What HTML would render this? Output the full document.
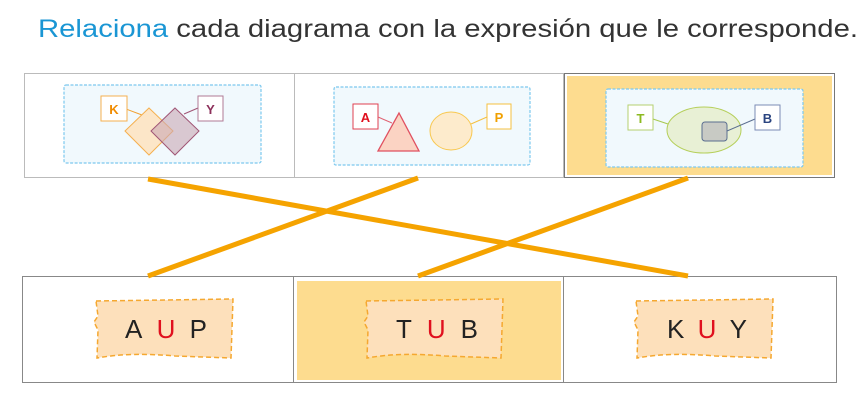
<!DOCTYPE html>
<html><head><meta charset="utf-8"><style>
html,body{margin:0;padding:0;background:#fff;width:864px;height:407px;overflow:hidden}
svg{display:block}
text{font-family:"Liberation Sans",sans-serif}
</style></head><body>
<svg width="864" height="407" viewBox="0 0 864 407" xmlns="http://www.w3.org/2000/svg">
<text x="38" y="37" font-size="25" fill="#333" textLength="820" lengthAdjust="spacingAndGlyphs"><tspan fill="#1a96d4">Relaciona</tspan> cada diagrama con la expresión que le corresponde.</text>

<!-- top row -->
<rect x="24.5" y="73.5" width="270" height="104" fill="#fff" stroke="#bbb"/>
<rect x="294.5" y="73.5" width="269" height="104" fill="#fff" stroke="#bbb"/>
<rect x="564.5" y="73.5" width="270" height="104" fill="#fff" stroke="#777"/>
<rect x="567" y="76" width="265" height="99" fill="#fddc8f"/>

<g stroke="#7cc8ee" stroke-width="1.2" stroke-dasharray="3 1.5" fill="#f1f9fd">
<rect x="64" y="85" width="197" height="78" rx="2"/>
<rect x="334" y="87" width="196" height="78" rx="2"/>
<rect x="606" y="89" width="197" height="78" rx="2"/>
</g>

<!-- diagram 1 -->
<line x1="126" y1="109" x2="142" y2="115" stroke="#f1a030"/>
<line x1="184" y1="114" x2="198" y2="108" stroke="#a05575"/>
<rect x="101" y="96" width="26" height="25" fill="#fff" stroke="#f5b050"/>
<text x="114" y="114" font-size="13" font-weight="bold" fill="#f08c00" text-anchor="middle">K</text>
<rect x="198" y="96" width="25" height="25" fill="#fff" stroke="#b07a95"/>
<text x="210.5" y="114" font-size="13" font-weight="bold" fill="#8c2f5a" text-anchor="middle">Y</text>
<polygon points="149,108 173,131 149,155 125,131" fill="#fde3c2" fill-opacity=".9" stroke="#f5b050"/>
<polygon points="175,108 199,131 175,155 151,131" fill="#c9a6b4" fill-opacity=".6" stroke="#a05575"/>

<!-- diagram 2 -->
<rect x="353" y="104" width="25" height="25" fill="#fff" stroke="#e04050"/>
<text x="365.5" y="122" font-size="13" font-weight="bold" fill="#e0101e" text-anchor="middle">A</text>
<line x1="378" y1="117" x2="392" y2="123" stroke="#e06070"/>
<polygon points="399,113 419,151 378,151" fill="#fbd3c3" stroke="#e05060" stroke-width="1.3"/>
<ellipse cx="451" cy="131" rx="21" ry="19" fill="#fdebcc" stroke="#f8c850"/>
<line x1="471" y1="124" x2="487" y2="117" stroke="#f5c040"/>
<rect x="487" y="104" width="24" height="25" fill="#fff" stroke="#f5c040"/>
<text x="499" y="122" font-size="13" font-weight="bold" fill="#f0a000" text-anchor="middle">P</text>

<!-- diagram 3 -->
<rect x="628" y="105" width="25" height="25" fill="#fff" stroke="#b5d070"/>
<text x="640.5" y="123" font-size="13" font-weight="bold" fill="#8cba20" text-anchor="middle">T</text>
<line x1="653" y1="119" x2="668" y2="124" stroke="#a8c850"/>
<ellipse cx="704" cy="130" rx="37" ry="23" fill="#e8f0d5" stroke="#b5cf5a"/>
<rect x="702" y="122" width="25" height="19" rx="3" fill="#c8cac4" stroke="#5a6e90"/>
<line x1="727" y1="131" x2="755" y2="119" stroke="#5a6e90"/>
<rect x="755" y="105" width="25" height="25" fill="#fff" stroke="#7b8cb5"/>
<text x="767.5" y="123" font-size="13" font-weight="bold" fill="#2a4480" text-anchor="middle">B</text>

<!-- bottom row -->
<rect x="22.5" y="276.5" width="271" height="106" fill="#fff" stroke="#888"/>
<rect x="293.5" y="276.5" width="270" height="106" fill="#fff" stroke="#888"/>
<rect x="563.5" y="276.5" width="273" height="106" fill="#fff" stroke="#888"/>
<rect x="297" y="281" width="264" height="99" fill="#fddc8f"/>

<g fill="#fde0bb" stroke="#f5a830" stroke-width="1.5" stroke-dasharray="5 3">
<path d="M96,301 L233,299 L231,358 L175,356 Q130,352 97,358 L98,330 L94,322 L98,316 Z"/>
<path d="M366,301 L503,299 L501,358 L445,356 Q400,352 367,358 L368,330 L364,322 L368,316 Z"/>
<path d="M636,301 L773,299 L771,358 L715,356 Q670,352 637,358 L638,330 L634,322 L638,316 Z"/>
</g>
<g font-size="26" fill="#222">
<text x="125" y="338" textLength="82" lengthAdjust="spacing"><tspan>A</tspan><tspan fill="#e0101e">U</tspan><tspan>P</tspan></text>
<text x="396" y="338" textLength="82" lengthAdjust="spacing"><tspan>T</tspan><tspan fill="#e0101e">U</tspan><tspan>B</tspan></text>
<text x="667" y="338" textLength="80" lengthAdjust="spacing"><tspan>K</tspan><tspan fill="#e0101e">U</tspan><tspan>Y</tspan></text>
</g>

<!-- connectors -->
<g stroke="#f5a300" stroke-width="5" stroke-linecap="butt">
<line x1="148" y1="179" x2="688" y2="276"/>
<line x1="418" y1="178" x2="148" y2="276"/>
<line x1="688" y1="178" x2="418" y2="276"/>
</g>
</svg>
</body></html>
